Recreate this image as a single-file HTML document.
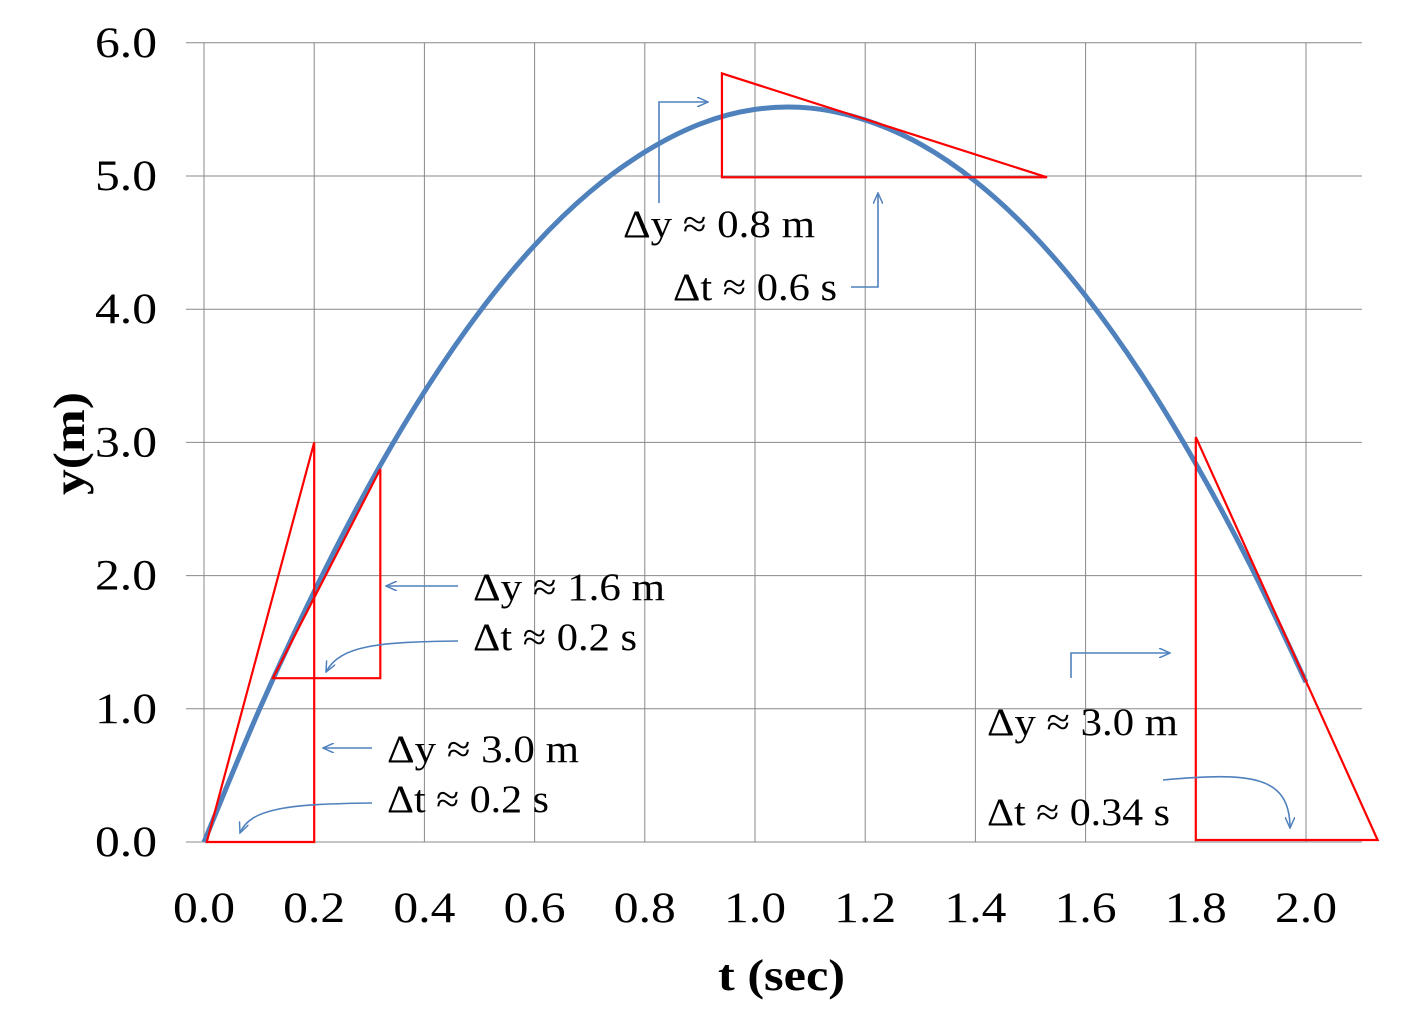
<!DOCTYPE html>
<html><head><meta charset="utf-8"><style>
body{margin:0;background:#fff}
svg text{font-family:"Liberation Serif",serif}
</style></head><body>
<svg id="c" width="1418" height="1031" viewBox="0 0 1418 1031">
<defs><marker id="ah" markerWidth="12" markerHeight="10" refX="11" refY="5" orient="auto" markerUnits="userSpaceOnUse"><path d="M0,0 L11,5 L0,10" fill="none" stroke="#4f81bd" stroke-width="1.5"/></marker></defs>
<g id="grid"></g>
<g id="ticks"></g>
<g id="series"></g>
<g id="tri"></g>
<g font-size="39" fill="#000" lengthAdjust="spacingAndGlyphs">
<text x="623" y="237" textLength="192" lengthAdjust="spacingAndGlyphs">Δy ≈ 0.8 m</text>
<text x="673" y="300" textLength="164" lengthAdjust="spacingAndGlyphs">Δt ≈ 0.6 s</text>
<text x="473" y="600" textLength="192" lengthAdjust="spacingAndGlyphs">Δy ≈ 1.6 m</text>
<text x="473" y="650" textLength="164" lengthAdjust="spacingAndGlyphs">Δt ≈ 0.2 s</text>
<text x="387" y="762" textLength="192" lengthAdjust="spacingAndGlyphs">Δy ≈ 3.0 m</text>
<text x="387" y="812" textLength="162" lengthAdjust="spacingAndGlyphs">Δt ≈ 0.2 s</text>
<text x="987" y="735" textLength="191" lengthAdjust="spacingAndGlyphs">Δy ≈ 3.0 m</text>
<text x="987" y="825" textLength="183" lengthAdjust="spacingAndGlyphs">Δt ≈ 0.34 s</text>
</g>
<g fill="none" stroke="#4f81bd" stroke-width="1.6" marker-end="url(#ah)">
<path d="M659,203 L659,102 L708,102"/>
<path d="M851,287 L878,287 L878,193"/>
<path d="M458,586 L386,586"/>
<path d="M458,641 C380,642 340,645 326,672"/>
<path d="M372,748 L323,748"/>
<path d="M372,803 C290,804 250,808 240,833"/>
<path d="M1071,678 L1071,653 L1170,653"/>
<path d="M1163,780 C1250,772 1290,775 1290,828"/>
</g>
<text x="718" y="990" textLength="127" lengthAdjust="spacingAndGlyphs" font-size="44" font-weight="bold">t (sec)</text>
<text transform="translate(84,495) rotate(-90)" textLength="103" lengthAdjust="spacingAndGlyphs" font-size="44" font-weight="bold">y(m)</text>
</svg>
<script>
const tVals=[0,0.1,0.2,0.3,0.4,0.5,0.6,0.7,0.8,0.9,1.0,1.1,1.2,1.3,1.4,1.5,1.6,1.7,1.8,1.9,2.0];
const yVals=[0,0.99,1.88,2.68,3.38,3.98,4.48,4.88,5.18,5.39,5.50,5.51,5.42,5.24,4.96,4.58,4.10,3.52,2.84,2.07,1.20];
const xTicks=["0.0","0.2","0.4","0.6","0.8","1.0","1.2","1.4","1.6","1.8","2.0"];
const yTicks=["0.0","1.0","2.0","3.0","4.0","5.0","6.0"];
const tri1=[[0.005,0],[0.2,3.0],[0.2,0]];
const tri2=[[0.125,1.23],[0.32,2.8],[0.32,1.23]];
const tri3=[[0.94,5.77],[0.94,4.99],[1.53,4.99]];
const tri4=[[1.80,3.04],[1.80,0.015],[2.13,0.015]];
const X=t=>204+t*551, Y=v=>842-v*133.2;
const NS="http://www.w3.org/2000/svg";
function mk(tag,par,at){const e=document.createElementNS(NS,tag);for(const k in at)e.setAttribute(k,at[k]);par.appendChild(e);return e;}
const g=document.getElementById('grid'),tk=document.getElementById('ticks');
xTicks.forEach(s=>{const v=parseFloat(s);
 const l=mk('line',g,{x1:X(v),x2:X(v),y1:43,y2:842,stroke:'#888','stroke-width':1});
 
 
 const t=mk('text',tk,{x:X(v)-31,y:922,textLength:62,lengthAdjust:'spacingAndGlyphs','font-size':43});t.textContent=s;
 
 });
yTicks.forEach(s=>{const v=parseFloat(s);
 const l=mk('line',g,{x1:186,x2:1362,y1:Y(v),y2:Y(v),stroke:'#888','stroke-width':1});
 
 
 const t=mk('text',tk,{x:95,y:Y(v)+14,textLength:62,lengthAdjust:'spacingAndGlyphs','font-size':43});t.textContent=s;
 
 });
const pts=tVals.map((t,i)=>[X(t),Y(yVals[i])]);
let d='M'+pts[0][0]+','+pts[0][1];
for(let i=0;i<pts.length-1;i++){const p0=pts[Math.max(0,i-1)],p1=pts[i],p2=pts[i+1],p3=pts[Math.min(pts.length-1,i+2)];
 d+=' C'+(p1[0]+(p2[0]-p0[0])/6)+','+(p1[1]+(p2[1]-p0[1])/6)+' '+(p2[0]-(p3[0]-p1[0])/6)+','+(p2[1]-(p3[1]-p1[1])/6)+' '+p2[0]+','+p2[1];}
const c=mk('path',document.getElementById('series'),{d:d,fill:'none',stroke:'#4f81bd','stroke-width':5});


[tri1,tri2,tri3,tri4].forEach((tr,i)=>{
 const p=mk('polygon',document.getElementById('tri'),{points:tr.map(q=>X(q[0])+','+Y(q[1])).join(' '),fill:'none',stroke:'#ff0000','stroke-width':2.2});
 
 });
</script>
</body></html>
